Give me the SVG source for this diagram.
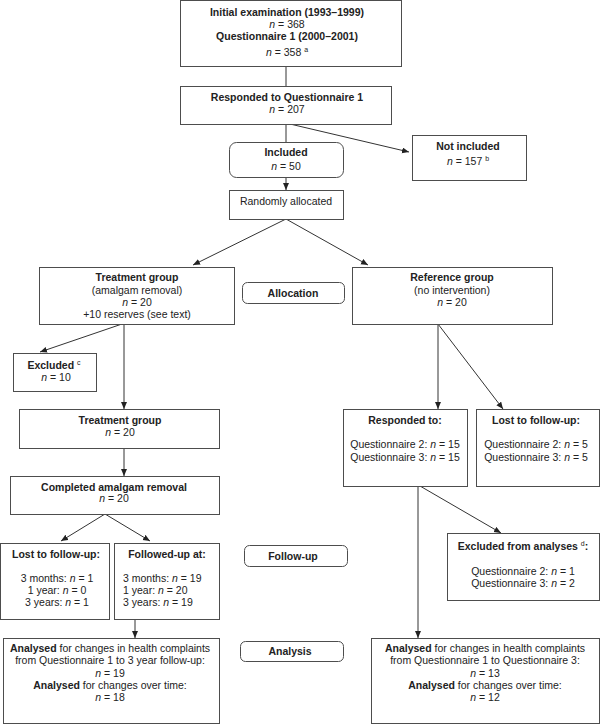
<svg xmlns="http://www.w3.org/2000/svg" width="600" height="724" viewBox="0 0 600 724">
<style>
.box{fill:#fff;stroke:#4d4d4d;stroke-width:1}
.rbox{fill:#fff;stroke:#4d4d4d;stroke-width:1}
.ln{fill:none;stroke:#333;stroke-width:1}
text{font-family:"Liberation Sans",Arial,sans-serif;font-size:10.5px;fill:#222}
.c{text-anchor:middle}
.b{font-weight:bold}
.i{font-style:italic}
.sup{font-size:7px}
</style>
<defs>
<marker id="ah" markerUnits="userSpaceOnUse" markerWidth="8" markerHeight="7" refX="7" refY="3" orient="auto">
<path d="M0,0 L7,3 L0,6 z" fill="#222"/>
</marker>
</defs>
<rect x="0" y="0" width="600" height="724" fill="#fff"/>
<g id="connectors">
<path class="ln" d="M286,66 V86"/>
<path class="ln" d="M286,124 V142"/>
<path class="ln" d="M290,124 L409,152" marker-end="url(#ah)"/>
<path class="ln" d="M286,177 V190" marker-end="url(#ah)"/>
<path class="ln" d="M286,219 L193,265" marker-end="url(#ah)"/>
<path class="ln" d="M286,219 L368,265" marker-end="url(#ah)"/>
<path class="ln" d="M122,324 L40,352" marker-end="url(#ah)"/>
<path class="ln" d="M124,324 V409" marker-end="url(#ah)"/>
<path class="ln" d="M124,448 V476" marker-end="url(#ah)"/>
<path class="ln" d="M105,514 L61,541" marker-end="url(#ah)"/>
<path class="ln" d="M105,514 L150,541" marker-end="url(#ah)"/>
<path class="ln" d="M135,619 V638" marker-end="url(#ah)"/>
<path class="ln" d="M438,324 V409" marker-end="url(#ah)"/>
<path class="ln" d="M438,324 L503,409" marker-end="url(#ah)"/>
<path class="ln" d="M420,486 L501,533" marker-end="url(#ah)"/>
<path class="ln" d="M418,486 V638" marker-end="url(#ah)"/>
</g>
<g id="initial">
<rect class="box" x="180.5" y="0.5" width="221" height="66"/>
<text class="c b" x="287" y="16">Initial examination (1993–1999)</text>
<text class="c" x="287" y="28"><tspan class="i">n</tspan> = 368</text>
<text class="c b" x="287" y="39.5">Questionnaire 1 (2000–2001)</text>
<text class="c" x="287" y="56"><tspan class="i">n</tspan> = 358 <tspan class="sup" dy="-4">a</tspan></text>
</g>
<g id="responded1">
<rect class="box" x="180.5" y="86.5" width="211" height="38"/>
<text class="c b" x="287" y="101">Responded to Questionnaire 1</text>
<text class="c" x="287" y="113"><tspan class="i">n</tspan> = 207</text>
</g>
<g id="included">
<rect class="rbox" x="229.5" y="142.5" width="114" height="35" rx="7"/>
<text class="c b" x="286" y="156">Included</text>
<text class="c" x="286" y="170"><tspan class="i">n</tspan> = 50</text>
</g>
<g id="notincluded">
<rect class="box" x="412.5" y="135.5" width="114" height="45"/>
<text class="c b" x="468" y="150">Not included</text>
<text class="c" x="468" y="165"><tspan class="i">n</tspan> = 157 <tspan class="sup" dy="-4">b</tspan></text>
</g>
<g id="random">
<rect class="box" x="229.5" y="190.5" width="114" height="29"/>
<text class="c" x="286" y="205">Randomly allocated</text>
</g>
<g id="treatment">
<rect class="box" x="39.5" y="267.5" width="195" height="57"/>
<text class="c b" x="137" y="281">Treatment group</text>
<text class="c" x="137" y="294">(amalgam removal)</text>
<text class="c" x="137" y="306"><tspan class="i">n</tspan> = 20</text>
<text class="c" x="137" y="318">+10 reserves (see text)</text>
</g>
<g id="allocation">
<rect class="rbox" x="242.5" y="282.5" width="102" height="21" rx="5"/>
<text class="c b" x="293" y="297">Allocation</text>
</g>
<g id="reference">
<rect class="box" x="352.5" y="267.5" width="200" height="57"/>
<text class="c b" x="452" y="281">Reference group</text>
<text class="c" x="452" y="294">(no intervention)</text>
<text class="c" x="452" y="306"><tspan class="i">n</tspan> = 20</text>
</g>
<g id="excluded">
<rect class="box" x="13.5" y="353.5" width="83" height="38"/>
<text class="c" x="54" y="369"><tspan class="b">Excluded</tspan> <tspan class="sup" dy="-4">c</tspan></text>
<text class="c" x="56" y="381"><tspan class="i">n</tspan> = 10</text>
</g>
<g id="treatment2">
<rect class="box" x="19.5" y="409.5" width="200" height="39"/>
<text class="c b" x="120" y="424">Treatment group</text>
<text class="c" x="120" y="436"><tspan class="i">n</tspan> = 20</text>
</g>
<g id="completed">
<rect class="box" x="10.5" y="476.5" width="209" height="38"/>
<text class="c b" x="114" y="491">Completed amalgam removal</text>
<text class="c" x="114" y="502"><tspan class="i">n</tspan> = 20</text>
</g>
<g id="lost1">
<rect class="box" x="0.5" y="543.5" width="109" height="76"/>
<text class="c b" x="56" y="558">Lost to follow-up:</text>
<text class="c" x="57" y="582">3 months: <tspan class="i">n</tspan> = 1</text>
<text class="c" x="57" y="594">1 year: <tspan class="i">n</tspan> = 0</text>
<text class="c" x="57" y="606">3 years: <tspan class="i">n</tspan> = 1</text>
</g>
<g id="followed">
<rect class="box" x="114.5" y="543.5" width="105" height="76"/>
<text class="c b" x="167" y="558">Followed-up at:</text>
<text x="123" y="582">3 months: <tspan class="i">n</tspan> = 19</text>
<text x="123" y="594">1 year: <tspan class="i">n</tspan> = 20</text>
<text x="123" y="606">3 years: <tspan class="i">n</tspan> = 19</text>
</g>
<g id="followup">
<rect class="rbox" x="244.5" y="545.5" width="103" height="21" rx="5"/>
<text class="c b" x="293" y="560">Follow-up</text>
</g>
<g id="analysed1">
<rect class="box" x="3.5" y="638.5" width="216" height="85"/>
<text class="c" x="110" y="652"><tspan class="b">Analysed</tspan> for changes in health complaints</text>
<text class="c" x="110" y="664">from Questionnaire 1 to 3 year follow-up:</text>
<text class="c" x="110" y="677"><tspan class="i">n</tspan> = 19</text>
<text class="c" x="110" y="689"><tspan class="b">Analysed</tspan> for changes over time:</text>
<text class="c" x="110" y="701"><tspan class="i">n</tspan> = 18</text>
</g>
<g id="analysis">
<rect class="rbox" x="240.5" y="641.5" width="103" height="20" rx="5"/>
<text class="c b" x="290" y="655">Analysis</text>
</g>
<g id="responded2">
<rect class="box" x="343.5" y="409.5" width="124" height="77"/>
<text class="c b" x="405" y="424">Responded to:</text>
<text class="c" x="405" y="448">Questionnaire 2: <tspan class="i">n</tspan> = 15</text>
<text class="c" x="405" y="461">Questionnaire 3: <tspan class="i">n</tspan> = 15</text>
</g>
<g id="lost2">
<rect class="box" x="476.5" y="409.5" width="123" height="77"/>
<text class="c b" x="536" y="424">Lost to follow-up:</text>
<text class="c" x="536" y="448">Questionnaire 2: <tspan class="i">n</tspan> = 5</text>
<text class="c" x="536" y="461">Questionnaire 3: <tspan class="i">n</tspan> = 5</text>
</g>
<g id="excluded2">
<rect class="box" x="447.5" y="533.5" width="152" height="67"/>
<text class="c b" x="523" y="550">Excluded from analyses <tspan class="sup" font-weight="normal" dy="-4">d</tspan><tspan dy="4">:</tspan></text>
<text class="c" x="523" y="575">Questionnaire 2: <tspan class="i">n</tspan> = 1</text>
<text class="c" x="523" y="587">Questionnaire 3: <tspan class="i">n</tspan> = 2</text>
</g>
<g id="analysed2">
<rect class="box" x="371.5" y="638.5" width="228" height="85"/>
<text class="c" x="485" y="652"><tspan class="b">Analysed</tspan> for changes in health complaints</text>
<text class="c" x="485" y="664">from Questionnaire 1 to Questionnaire 3:</text>
<text class="c" x="485" y="677"><tspan class="i">n</tspan> = 13</text>
<text class="c" x="485" y="689"><tspan class="b">Analysed</tspan> for changes over time:</text>
<text class="c" x="485" y="701"><tspan class="i">n</tspan> = 12</text>
</g>
</svg>
